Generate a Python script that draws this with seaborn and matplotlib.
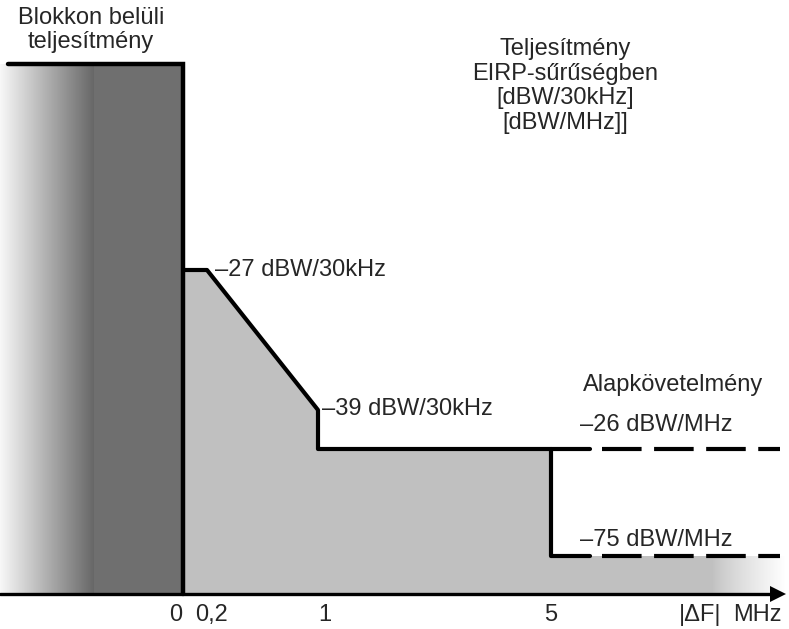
import numpy as np
import matplotlib.pyplot as plt
import seaborn as sns

sns.set_theme(style="white")
plt.rcParams['font.family'] = ['Liberation Sans', 'DejaVu Sans']

# schematic geometry (pixel-like units, y grows downward)
axis_y = 594
block_top = 64
block_x = [8, 183]
block_fade_end = 95

# emission mask outline
mask_x = [183, 207, 318, 318, 551, 551]
mask_y = [270, 270, 410, 449, 449, 556]
upper_level_y = 449
lower_level_y = 556
dash_x = [551, 780]
solid_end = 590
fade_x = [712, 785]

# labels
tick_pos = [176, 212, 325, 551]
tick_labels = ["0", "0,2", "1", "5"]
level_labels = ["–27 dBW/30kHz", "–39 dBW/30kHz", "–26 dBW/MHz", "–75 dBW/MHz"]
level_pos = [(215, 270), (322, 409), (580, 425), (580, 540)]

fig = plt.figure(figsize=(7.89, 6.29), dpi=100)
ax = fig.add_axes([0, 0, 1, 1])
ax.set_xlim(0, 789)
ax.set_ylim(629, 0)
ax.axis("off")

# in-block power: gradient + dark rectangle
grad = np.linspace(0.97, 0.40, 200)[None, :]
ax.imshow(grad, cmap="gray", vmin=0, vmax=1, aspect="auto",
          extent=(0, block_fade_end, axis_y, block_top), zorder=1)
ax.fill_between([block_fade_end - 1, block_x[1]], axis_y, block_top,
                color="#6f6f6f", lw=0, zorder=1)

# light gray area under the mask
poly_x = mask_x + [fade_x[1], fade_x[1], mask_x[0]]
poly_y = mask_y + [lower_level_y, axis_y, axis_y]
ax.fill(poly_x, poly_y, color="#c0c0c0", lw=0, zorder=1)

# fade of gray area on the right
fade = np.ones((1, 200, 4))
fade[..., 3] = np.linspace(0, 1, 200) ** 0.8
ax.imshow(fade, aspect="auto", extent=(fade_x[0], fade_x[1], axis_y, lower_level_y), zorder=2)

# block outline
ax.plot([block_x[0], block_x[1], block_x[1]], [block_top, block_top, axis_y],
        color="black", lw=3.2, solid_joinstyle="miter", zorder=3)

# mask line
sns.lineplot(x=mask_x + [solid_end], y=mask_y + [lower_level_y], sort=False,
             estimator=None, color="black", lw=3.0, ax=ax, zorder=3)
ax.plot([mask_x[4], solid_end], [upper_level_y, upper_level_y], color="black", lw=3.0, zorder=3)
for yy in [upper_level_y, lower_level_y]:
    ax.plot([solid_end + 12, dash_x[1]], [yy, yy], color="black", lw=3.0,
            dashes=(9.5, 3), zorder=3)

# frequency axis with arrow
ax.plot([0, 772], [axis_y, axis_y], color="black", lw=2.4, zorder=4)
ax.fill([770, 786, 770], [axis_y - 8, axis_y, axis_y + 8], color="black", lw=0, zorder=4)

fs = 17
for p, t in zip(tick_pos, tick_labels):
    ax.text(p, 615, t, ha="center", va="center", fontsize=fs)
ax.text(700, 615, "|ΔF|", ha="center", va="center", fontsize=fs)
ax.text(757, 615, "MHz", ha="center", va="center", fontsize=fs)

for (px, py), t in zip(level_pos, level_labels):
    ax.text(px, py, t, ha="left", va="center", fontsize=fs)

ax.text(673, 385, "Alapkövetelmény", ha="center", va="center", fontsize=fs)
ax.text(91, 30, "Blokkon belüli\nteljesítmény", ha="center", va="center",
        fontsize=fs, linespacing=1.15)
ax.text(565, 86, "Teljesítmény\nEIRP-sűrűségben\n[dBW/30kHz]\n[dBW/MHz]]",
        ha="center", va="center", fontsize=fs, linespacing=1.15)

fig.savefig("out.png", dpi=100)
